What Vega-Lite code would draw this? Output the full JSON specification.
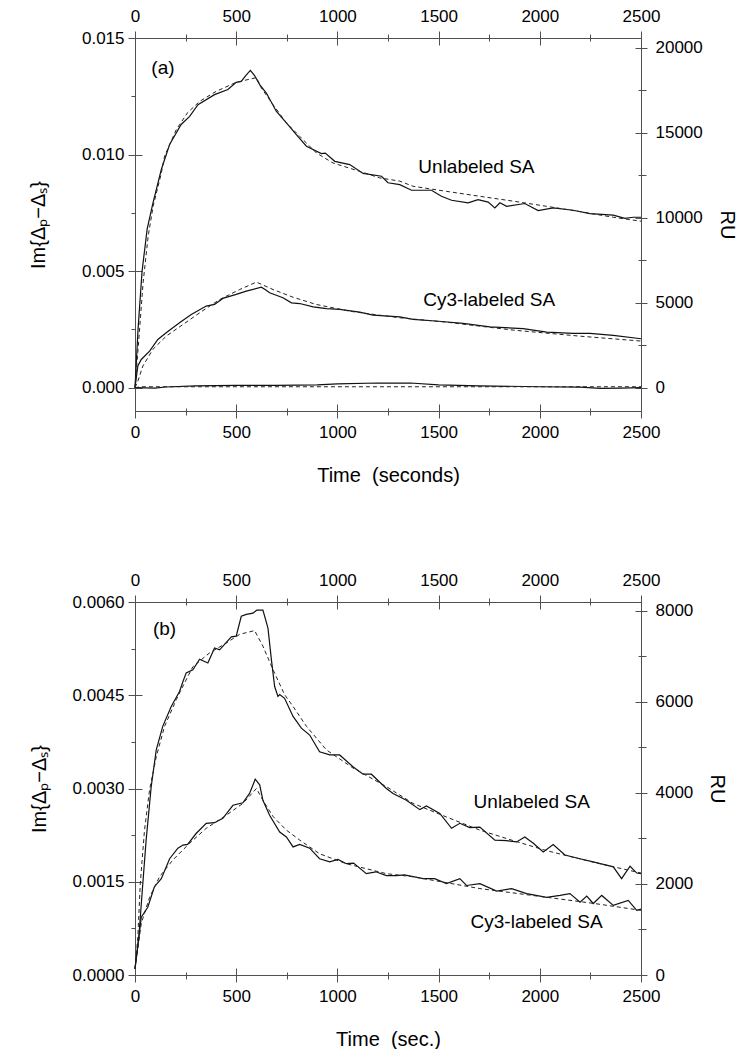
{
  "$schema": "https://vega.github.io/schema/vega-lite/v6.json",
  "padding": {"left": 28, "top": 7, "right": 5, "bottom": 0},
  "spacing": 86,
  "config": {
    "view": {"stroke": null},
    "axis": {
      "grid": false,
      "labelFlush": false,
      "domainColor": "#505050",
      "tickColor": "#505050",
      "domainWidth": 1,
      "tickWidth": 1,
      "labelFont": "Liberation Sans",
      "labelFontSize": 17,
      "labelColor": "#000000",
      "titleFont": "Liberation Sans",
      "titleFontSize": 20,
      "titleFontWeight": "normal",
      "titleColor": "#000000"
    },
    "text": {"font": "Liberation Sans", "fontSize": 19, "color": "#000000"}
  },
  "datasets": {
    "a": [
      {"s": "un", "k": "s", "t": 0, "v": 0},
      {"s": "un", "k": "s", "t": 15, "v": 0.0025},
      {"s": "un", "k": "s", "t": 35, "v": 0.005},
      {"s": "un", "k": "s", "t": 60, "v": 0.0068},
      {"s": "un", "k": "s", "t": 88, "v": 0.0079},
      {"s": "un", "k": "s", "t": 130, "v": 0.00936},
      {"s": "un", "k": "s", "t": 171, "v": 0.01043},
      {"s": "un", "k": "s", "t": 228, "v": 0.01129},
      {"s": "un", "k": "s", "t": 270, "v": 0.01164},
      {"s": "un", "k": "s", "t": 311, "v": 0.01214},
      {"s": "un", "k": "s", "t": 393, "v": 0.01257},
      {"s": "un", "k": "s", "t": 459, "v": 0.01279},
      {"s": "un", "k": "s", "t": 500, "v": 0.0131},
      {"s": "un", "k": "s", "t": 525, "v": 0.01314},
      {"s": "un", "k": "s", "t": 548, "v": 0.0134},
      {"s": "un", "k": "s", "t": 570, "v": 0.01361},
      {"s": "un", "k": "s", "t": 590, "v": 0.0134},
      {"s": "un", "k": "s", "t": 616, "v": 0.013},
      {"s": "un", "k": "s", "t": 649, "v": 0.01264},
      {"s": "un", "k": "s", "t": 698, "v": 0.01186},
      {"s": "un", "k": "s", "t": 748, "v": 0.01136},
      {"s": "un", "k": "s", "t": 797, "v": 0.01086},
      {"s": "un", "k": "s", "t": 847, "v": 0.01036},
      {"s": "un", "k": "s", "t": 921, "v": 0.01004},
      {"s": "un", "k": "s", "t": 940, "v": 0.01006},
      {"s": "un", "k": "s", "t": 987, "v": 0.00971},
      {"s": "un", "k": "s", "t": 1061, "v": 0.00957},
      {"s": "un", "k": "s", "t": 1127, "v": 0.00919},
      {"s": "un", "k": "s", "t": 1218, "v": 0.00907},
      {"s": "un", "k": "s", "t": 1250, "v": 0.00879},
      {"s": "un", "k": "s", "t": 1308, "v": 0.00871},
      {"s": "un", "k": "s", "t": 1366, "v": 0.00847},
      {"s": "un", "k": "s", "t": 1465, "v": 0.00847},
      {"s": "un", "k": "s", "t": 1514, "v": 0.00821},
      {"s": "un", "k": "s", "t": 1564, "v": 0.00804},
      {"s": "un", "k": "s", "t": 1646, "v": 0.00793},
      {"s": "un", "k": "s", "t": 1695, "v": 0.00807},
      {"s": "un", "k": "s", "t": 1745, "v": 0.00796},
      {"s": "un", "k": "s", "t": 1778, "v": 0.00771},
      {"s": "un", "k": "s", "t": 1803, "v": 0.00793},
      {"s": "un", "k": "s", "t": 1836, "v": 0.00778},
      {"s": "un", "k": "s", "t": 1926, "v": 0.0079},
      {"s": "un", "k": "s", "t": 1992, "v": 0.0076},
      {"s": "un", "k": "s", "t": 2066, "v": 0.00771},
      {"s": "un", "k": "s", "t": 2165, "v": 0.00761},
      {"s": "un", "k": "s", "t": 2248, "v": 0.00747},
      {"s": "un", "k": "s", "t": 2363, "v": 0.0074},
      {"s": "un", "k": "s", "t": 2421, "v": 0.00726},
      {"s": "un", "k": "s", "t": 2462, "v": 0.00731},
      {"s": "un", "k": "s", "t": 2500, "v": 0.00731},

      {"s": "und", "k": "d", "t": 0, "v": 0},
      {"s": "und", "k": "d", "t": 20, "v": 0.0022},
      {"s": "und", "k": "d", "t": 40, "v": 0.0045},
      {"s": "und", "k": "d", "t": 65, "v": 0.0065},
      {"s": "und", "k": "d", "t": 90, "v": 0.0078},
      {"s": "und", "k": "d", "t": 130, "v": 0.0092},
      {"s": "und", "k": "d", "t": 146, "v": 0.00993},
      {"s": "und", "k": "d", "t": 204, "v": 0.01107},
      {"s": "und", "k": "d", "t": 260, "v": 0.0118},
      {"s": "und", "k": "d", "t": 319, "v": 0.01228},
      {"s": "und", "k": "d", "t": 401, "v": 0.01271},
      {"s": "und", "k": "d", "t": 500, "v": 0.0131},
      {"s": "und", "k": "d", "t": 600, "v": 0.0133},
      {"s": "und", "k": "d", "t": 624, "v": 0.01286},
      {"s": "und", "k": "d", "t": 682, "v": 0.01214},
      {"s": "und", "k": "d", "t": 748, "v": 0.01136},
      {"s": "und", "k": "d", "t": 814, "v": 0.01078},
      {"s": "und", "k": "d", "t": 896, "v": 0.01007},
      {"s": "und", "k": "d", "t": 978, "v": 0.00964},
      {"s": "und", "k": "d", "t": 1110, "v": 0.00928},
      {"s": "und", "k": "d", "t": 1209, "v": 0.009},
      {"s": "und", "k": "d", "t": 1308, "v": 0.00886},
      {"s": "und", "k": "d", "t": 1374, "v": 0.00864},
      {"s": "und", "k": "d", "t": 1540, "v": 0.00842},
      {"s": "und", "k": "d", "t": 1704, "v": 0.00821},
      {"s": "und", "k": "d", "t": 1870, "v": 0.008},
      {"s": "und", "k": "d", "t": 2034, "v": 0.00778},
      {"s": "und", "k": "d", "t": 2200, "v": 0.00755},
      {"s": "und", "k": "d", "t": 2363, "v": 0.00731},
      {"s": "und", "k": "d", "t": 2500, "v": 0.00714},

      {"s": "cy", "k": "s", "t": 0, "v": 0},
      {"s": "cy", "k": "s", "t": 14, "v": 0.00093},
      {"s": "cy", "k": "s", "t": 31, "v": 0.00121},
      {"s": "cy", "k": "s", "t": 72, "v": 0.00157},
      {"s": "cy", "k": "s", "t": 113, "v": 0.00207},
      {"s": "cy", "k": "s", "t": 154, "v": 0.00236},
      {"s": "cy", "k": "s", "t": 220, "v": 0.00279},
      {"s": "cy", "k": "s", "t": 278, "v": 0.00314},
      {"s": "cy", "k": "s", "t": 352, "v": 0.0035},
      {"s": "cy", "k": "s", "t": 393, "v": 0.00357},
      {"s": "cy", "k": "s", "t": 434, "v": 0.00383},
      {"s": "cy", "k": "s", "t": 500, "v": 0.004},
      {"s": "cy", "k": "s", "t": 550, "v": 0.00414},
      {"s": "cy", "k": "s", "t": 624, "v": 0.00431},
      {"s": "cy", "k": "s", "t": 645, "v": 0.0042},
      {"s": "cy", "k": "s", "t": 665, "v": 0.00407},
      {"s": "cy", "k": "s", "t": 731, "v": 0.00386},
      {"s": "cy", "k": "s", "t": 773, "v": 0.00364},
      {"s": "cy", "k": "s", "t": 814, "v": 0.00361},
      {"s": "cy", "k": "s", "t": 880, "v": 0.00347},
      {"s": "cy", "k": "s", "t": 946, "v": 0.00339},
      {"s": "cy", "k": "s", "t": 1011, "v": 0.00336},
      {"s": "cy", "k": "s", "t": 1110, "v": 0.00324},
      {"s": "cy", "k": "s", "t": 1176, "v": 0.00311},
      {"s": "cy", "k": "s", "t": 1308, "v": 0.00304},
      {"s": "cy", "k": "s", "t": 1374, "v": 0.00293},
      {"s": "cy", "k": "s", "t": 1500, "v": 0.00285},
      {"s": "cy", "k": "s", "t": 1621, "v": 0.00276},
      {"s": "cy", "k": "s", "t": 1753, "v": 0.00261},
      {"s": "cy", "k": "s", "t": 1918, "v": 0.00253},
      {"s": "cy", "k": "s", "t": 2034, "v": 0.00238},
      {"s": "cy", "k": "s", "t": 2165, "v": 0.00233},
      {"s": "cy", "k": "s", "t": 2248, "v": 0.00233},
      {"s": "cy", "k": "s", "t": 2363, "v": 0.00224},
      {"s": "cy", "k": "s", "t": 2500, "v": 0.0021},

      {"s": "cyd", "k": "d", "t": 0, "v": 0},
      {"s": "cyd", "k": "d", "t": 14, "v": 0.00028},
      {"s": "cyd", "k": "d", "t": 39, "v": 0.00093},
      {"s": "cyd", "k": "d", "t": 88, "v": 0.00164},
      {"s": "cyd", "k": "d", "t": 154, "v": 0.00221},
      {"s": "cyd", "k": "d", "t": 237, "v": 0.00271},
      {"s": "cyd", "k": "d", "t": 319, "v": 0.00321},
      {"s": "cyd", "k": "d", "t": 418, "v": 0.00378},
      {"s": "cyd", "k": "d", "t": 517, "v": 0.00421},
      {"s": "cyd", "k": "d", "t": 600, "v": 0.00453},
      {"s": "cyd", "k": "d", "t": 682, "v": 0.00421},
      {"s": "cyd", "k": "d", "t": 781, "v": 0.00388},
      {"s": "cyd", "k": "d", "t": 896, "v": 0.00357},
      {"s": "cyd", "k": "d", "t": 1061, "v": 0.00328},
      {"s": "cyd", "k": "d", "t": 1209, "v": 0.00311},
      {"s": "cyd", "k": "d", "t": 1308, "v": 0.003},
      {"s": "cyd", "k": "d", "t": 1539, "v": 0.00281},
      {"s": "cyd", "k": "d", "t": 1869, "v": 0.00247},
      {"s": "cyd", "k": "d", "t": 2199, "v": 0.00221},
      {"s": "cyd", "k": "d", "t": 2500, "v": 0.002},

      {"s": "bl", "k": "s", "t": 0, "v": 0},
      {"s": "bl", "k": "s", "t": 100, "v": -0.00002},
      {"s": "bl", "k": "s", "t": 150, "v": 0.00003},
      {"s": "bl", "k": "s", "t": 300, "v": 0.00008},
      {"s": "bl", "k": "s", "t": 500, "v": 0.0001},
      {"s": "bl", "k": "s", "t": 700, "v": 0.0001},
      {"s": "bl", "k": "s", "t": 900, "v": 0.00012},
      {"s": "bl", "k": "s", "t": 1000, "v": 0.00016},
      {"s": "bl", "k": "s", "t": 1200, "v": 0.0002},
      {"s": "bl", "k": "s", "t": 1360, "v": 0.0002},
      {"s": "bl", "k": "s", "t": 1500, "v": 0.00012},
      {"s": "bl", "k": "s", "t": 1700, "v": 0.00008},
      {"s": "bl", "k": "s", "t": 2000, "v": 0.00004},
      {"s": "bl", "k": "s", "t": 2200, "v": 0.00002},
      {"s": "bl", "k": "s", "t": 2300, "v": -0.00003},
      {"s": "bl", "k": "s", "t": 2400, "v": -0.00002},
      {"s": "bl", "k": "s", "t": 2500, "v": 0},

      {"s": "bld", "k": "d", "t": 0, "v": 0},
      {"s": "bld", "k": "d", "t": 30, "v": 0.00004},
      {"s": "bld", "k": "d", "t": 2500, "v": 0.00004}
    ],
    "b": [
      {"s": "un", "k": "s", "t": 0, "v": 0.0001},
      {"s": "un", "k": "s", "t": 19, "v": 0.00061},
      {"s": "un", "k": "s", "t": 36, "v": 0.00136},
      {"s": "un", "k": "s", "t": 55, "v": 0.00217},
      {"s": "un", "k": "s", "t": 80, "v": 0.00303},
      {"s": "un", "k": "s", "t": 105, "v": 0.00362},
      {"s": "un", "k": "s", "t": 137, "v": 0.004},
      {"s": "un", "k": "s", "t": 179, "v": 0.00432},
      {"s": "un", "k": "s", "t": 220, "v": 0.00456},
      {"s": "un", "k": "s", "t": 237, "v": 0.00472},
      {"s": "un", "k": "s", "t": 253, "v": 0.00486},
      {"s": "un", "k": "s", "t": 286, "v": 0.00491},
      {"s": "un", "k": "s", "t": 319, "v": 0.00508},
      {"s": "un", "k": "s", "t": 360, "v": 0.00502},
      {"s": "un", "k": "s", "t": 393, "v": 0.00526},
      {"s": "un", "k": "s", "t": 418, "v": 0.00523},
      {"s": "un", "k": "s", "t": 476, "v": 0.00544},
      {"s": "un", "k": "s", "t": 500, "v": 0.00545},
      {"s": "un", "k": "s", "t": 525, "v": 0.00577},
      {"s": "un", "k": "s", "t": 550, "v": 0.0058},
      {"s": "un", "k": "s", "t": 583, "v": 0.00582},
      {"s": "un", "k": "s", "t": 602, "v": 0.00587},
      {"s": "un", "k": "s", "t": 632, "v": 0.00587},
      {"s": "un", "k": "s", "t": 657, "v": 0.00558},
      {"s": "un", "k": "s", "t": 674, "v": 0.00507},
      {"s": "un", "k": "s", "t": 690, "v": 0.00464},
      {"s": "un", "k": "s", "t": 706, "v": 0.00448},
      {"s": "un", "k": "s", "t": 715, "v": 0.00451},
      {"s": "un", "k": "s", "t": 739, "v": 0.00445},
      {"s": "un", "k": "s", "t": 781, "v": 0.00416},
      {"s": "un", "k": "s", "t": 822, "v": 0.00397},
      {"s": "un", "k": "s", "t": 863, "v": 0.00386},
      {"s": "un", "k": "s", "t": 912, "v": 0.00359},
      {"s": "un", "k": "s", "t": 962, "v": 0.00354},
      {"s": "un", "k": "s", "t": 1011, "v": 0.00354},
      {"s": "un", "k": "s", "t": 1077, "v": 0.00335},
      {"s": "un", "k": "s", "t": 1127, "v": 0.00323},
      {"s": "un", "k": "s", "t": 1168, "v": 0.00323},
      {"s": "un", "k": "s", "t": 1242, "v": 0.003},
      {"s": "un", "k": "s", "t": 1275, "v": 0.00292},
      {"s": "un", "k": "s", "t": 1341, "v": 0.00281},
      {"s": "un", "k": "s", "t": 1407, "v": 0.00266},
      {"s": "un", "k": "s", "t": 1440, "v": 0.00272},
      {"s": "un", "k": "s", "t": 1506, "v": 0.0026},
      {"s": "un", "k": "s", "t": 1564, "v": 0.00236},
      {"s": "un", "k": "s", "t": 1605, "v": 0.00244},
      {"s": "un", "k": "s", "t": 1654, "v": 0.00237},
      {"s": "un", "k": "s", "t": 1704, "v": 0.00238},
      {"s": "un", "k": "s", "t": 1778, "v": 0.00217},
      {"s": "un", "k": "s", "t": 1836, "v": 0.00216},
      {"s": "un", "k": "s", "t": 1885, "v": 0.00214},
      {"s": "un", "k": "s", "t": 1926, "v": 0.00222},
      {"s": "un", "k": "s", "t": 1968, "v": 0.00212},
      {"s": "un", "k": "s", "t": 2017, "v": 0.00198},
      {"s": "un", "k": "s", "t": 2066, "v": 0.0021},
      {"s": "un", "k": "s", "t": 2124, "v": 0.00193},
      {"s": "un", "k": "s", "t": 2198, "v": 0.00187},
      {"s": "un", "k": "s", "t": 2264, "v": 0.00182},
      {"s": "un", "k": "s", "t": 2363, "v": 0.00174},
      {"s": "un", "k": "s", "t": 2404, "v": 0.00155},
      {"s": "un", "k": "s", "t": 2446, "v": 0.00175},
      {"s": "un", "k": "s", "t": 2479, "v": 0.00164},
      {"s": "un", "k": "s", "t": 2500, "v": 0.00163},

      {"s": "und", "k": "d", "t": 0, "v": 0.0001},
      {"s": "und", "k": "d", "t": 14, "v": 0.00061},
      {"s": "und", "k": "d", "t": 26, "v": 0.00147},
      {"s": "und", "k": "d", "t": 47, "v": 0.00233},
      {"s": "und", "k": "d", "t": 72, "v": 0.00298},
      {"s": "und", "k": "d", "t": 105, "v": 0.00351},
      {"s": "und", "k": "d", "t": 146, "v": 0.004},
      {"s": "und", "k": "d", "t": 204, "v": 0.00443},
      {"s": "und", "k": "d", "t": 228, "v": 0.00459},
      {"s": "und", "k": "d", "t": 286, "v": 0.00496},
      {"s": "und", "k": "d", "t": 368, "v": 0.00518},
      {"s": "und", "k": "d", "t": 451, "v": 0.00534},
      {"s": "und", "k": "d", "t": 517, "v": 0.00548},
      {"s": "und", "k": "d", "t": 591, "v": 0.00554},
      {"s": "und", "k": "d", "t": 632, "v": 0.00529},
      {"s": "und", "k": "d", "t": 682, "v": 0.00491},
      {"s": "und", "k": "d", "t": 739, "v": 0.00451},
      {"s": "und", "k": "d", "t": 781, "v": 0.00432},
      {"s": "und", "k": "d", "t": 847, "v": 0.004},
      {"s": "und", "k": "d", "t": 946, "v": 0.00362},
      {"s": "und", "k": "d", "t": 1077, "v": 0.00333},
      {"s": "und", "k": "d", "t": 1242, "v": 0.00303},
      {"s": "und", "k": "d", "t": 1374, "v": 0.00276},
      {"s": "und", "k": "d", "t": 1540, "v": 0.00254},
      {"s": "und", "k": "d", "t": 1704, "v": 0.00233},
      {"s": "und", "k": "d", "t": 1870, "v": 0.00216},
      {"s": "und", "k": "d", "t": 2034, "v": 0.002},
      {"s": "und", "k": "d", "t": 2270, "v": 0.00181},
      {"s": "und", "k": "d", "t": 2500, "v": 0.00164},

      {"s": "cy", "k": "s", "t": 0, "v": 0.0001},
      {"s": "cy", "k": "s", "t": 31, "v": 0.00093},
      {"s": "cy", "k": "s", "t": 63, "v": 0.00109},
      {"s": "cy", "k": "s", "t": 96, "v": 0.00142},
      {"s": "cy", "k": "s", "t": 130, "v": 0.00155},
      {"s": "cy", "k": "s", "t": 171, "v": 0.00187},
      {"s": "cy", "k": "s", "t": 212, "v": 0.00204},
      {"s": "cy", "k": "s", "t": 237, "v": 0.00209},
      {"s": "cy", "k": "s", "t": 260, "v": 0.0021},
      {"s": "cy", "k": "s", "t": 303, "v": 0.00228},
      {"s": "cy", "k": "s", "t": 352, "v": 0.00244},
      {"s": "cy", "k": "s", "t": 393, "v": 0.00245},
      {"s": "cy", "k": "s", "t": 434, "v": 0.00252},
      {"s": "cy", "k": "s", "t": 484, "v": 0.00273},
      {"s": "cy", "k": "s", "t": 533, "v": 0.00277},
      {"s": "cy", "k": "s", "t": 566, "v": 0.00292},
      {"s": "cy", "k": "s", "t": 594, "v": 0.00315},
      {"s": "cy", "k": "s", "t": 616, "v": 0.00306},
      {"s": "cy", "k": "s", "t": 632, "v": 0.00281},
      {"s": "cy", "k": "s", "t": 665, "v": 0.00257},
      {"s": "cy", "k": "s", "t": 715, "v": 0.0023},
      {"s": "cy", "k": "s", "t": 748, "v": 0.00222},
      {"s": "cy", "k": "s", "t": 781, "v": 0.00206},
      {"s": "cy", "k": "s", "t": 814, "v": 0.0021},
      {"s": "cy", "k": "s", "t": 863, "v": 0.00204},
      {"s": "cy", "k": "s", "t": 912, "v": 0.00187},
      {"s": "cy", "k": "s", "t": 962, "v": 0.00182},
      {"s": "cy", "k": "s", "t": 1003, "v": 0.00186},
      {"s": "cy", "k": "s", "t": 1044, "v": 0.00179},
      {"s": "cy", "k": "s", "t": 1080, "v": 0.0018},
      {"s": "cy", "k": "s", "t": 1143, "v": 0.00163},
      {"s": "cy", "k": "s", "t": 1190, "v": 0.00166},
      {"s": "cy", "k": "s", "t": 1242, "v": 0.0016},
      {"s": "cy", "k": "s", "t": 1292, "v": 0.0016},
      {"s": "cy", "k": "s", "t": 1330, "v": 0.00161},
      {"s": "cy", "k": "s", "t": 1424, "v": 0.00155},
      {"s": "cy", "k": "s", "t": 1480, "v": 0.00155},
      {"s": "cy", "k": "s", "t": 1539, "v": 0.00147},
      {"s": "cy", "k": "s", "t": 1605, "v": 0.00155},
      {"s": "cy", "k": "s", "t": 1638, "v": 0.00144},
      {"s": "cy", "k": "s", "t": 1704, "v": 0.00147},
      {"s": "cy", "k": "s", "t": 1787, "v": 0.00135},
      {"s": "cy", "k": "s", "t": 1861, "v": 0.00139},
      {"s": "cy", "k": "s", "t": 1935, "v": 0.00131},
      {"s": "cy", "k": "s", "t": 2034, "v": 0.00125},
      {"s": "cy", "k": "s", "t": 2100, "v": 0.00128},
      {"s": "cy", "k": "s", "t": 2149, "v": 0.00131},
      {"s": "cy", "k": "s", "t": 2199, "v": 0.00117},
      {"s": "cy", "k": "s", "t": 2232, "v": 0.00127},
      {"s": "cy", "k": "s", "t": 2264, "v": 0.00115},
      {"s": "cy", "k": "s", "t": 2306, "v": 0.00128},
      {"s": "cy", "k": "s", "t": 2363, "v": 0.00112},
      {"s": "cy", "k": "s", "t": 2437, "v": 0.0012},
      {"s": "cy", "k": "s", "t": 2479, "v": 0.00104},
      {"s": "cy", "k": "s", "t": 2500, "v": 0.00106},

      {"s": "cyd", "k": "d", "t": 0, "v": 0.0001},
      {"s": "cyd", "k": "d", "t": 31, "v": 0.00083},
      {"s": "cyd", "k": "d", "t": 72, "v": 0.00125},
      {"s": "cyd", "k": "d", "t": 121, "v": 0.00158},
      {"s": "cyd", "k": "d", "t": 187, "v": 0.00185},
      {"s": "cyd", "k": "d", "t": 270, "v": 0.00212},
      {"s": "cyd", "k": "d", "t": 352, "v": 0.00236},
      {"s": "cyd", "k": "d", "t": 451, "v": 0.00257},
      {"s": "cyd", "k": "d", "t": 533, "v": 0.00276},
      {"s": "cyd", "k": "d", "t": 600, "v": 0.003},
      {"s": "cyd", "k": "d", "t": 632, "v": 0.00281},
      {"s": "cyd", "k": "d", "t": 682, "v": 0.00255},
      {"s": "cyd", "k": "d", "t": 748, "v": 0.00233},
      {"s": "cyd", "k": "d", "t": 814, "v": 0.00217},
      {"s": "cyd", "k": "d", "t": 912, "v": 0.00195},
      {"s": "cyd", "k": "d", "t": 1044, "v": 0.00179},
      {"s": "cyd", "k": "d", "t": 1242, "v": 0.00163},
      {"s": "cyd", "k": "d", "t": 1374, "v": 0.00158},
      {"s": "cyd", "k": "d", "t": 1704, "v": 0.00139},
      {"s": "cyd", "k": "d", "t": 2034, "v": 0.00125},
      {"s": "cyd", "k": "d", "t": 2270, "v": 0.00115},
      {"s": "cyd", "k": "d", "t": 2500, "v": 0.00104}
    ],
    "alab": [
      {"t": 138, "v": 0.01372, "txt": "(a)"},
      {"t": 1687, "v": 0.00947, "txt": "Unlabeled SA"},
      {"t": 1750, "v": 0.00378, "txt": "Cy3-labeled SA"}
    ],
    "blab": [
      {"t": 146, "v": 0.00556, "txt": "(b)"},
      {"t": 1960, "v": 0.00279, "txt": "Unlabeled SA"},
      {"t": 1984, "v": 0.00085, "txt": "Cy3-labeled SA"}
    ],
    "ru": [{"t": 0, "ru": 0}]
  },
  "vconcat": [
    {
      "width": 506,
      "height": 373,
      "layer": [
        {
          "data": {"name": "a"},
          "transform": [{"filter": "datum.k === 's'"}],
          "mark": {"type": "line", "color": "#111111", "strokeWidth": 1.2},
          "encoding": {
            "x": {"field": "t", "type": "quantitative", "scale": {"domain": [0, 2500], "nice": false, "zero": false},
              "axis": {"orient": "bottom", "values": [0, 250, 500, 750, 1000, 1250, 1500, 1750, 2000, 2250, 2500],
                "labelExpr": "datum.value % 500 === 0 ? datum.label : ''", "format": "d",
                "tickSize": {"condition": {"test": "datum.value % 500 === 0", "value": 7}, "value": 4},
                "labelPadding": 6, "title": "Time \u00a0(seconds)", "titlePadding": 25}},
            "y": {"field": "v", "type": "quantitative", "scale": {"domain": [-0.001, 0.015], "nice": false, "zero": false},
              "axis": {"orient": "left", "values": [0, 0.0025, 0.005, 0.0075, 0.01, 0.0125, 0.015], "format": ".3f",
                "labelExpr": "abs(datum.value*200 - round(datum.value*200)) < 1e-6 ? datum.label : ''",
                "tickSize": {"condition": {"test": "abs(datum.value*200 - round(datum.value*200)) < 1e-6", "value": 7}, "value": 4},
                "labelPadding": 4, "title": "Im{Δₚ−Δₛ}", "titlePadding": 33}},
            "detail": {"field": "s"}
          }
        },
        {
          "data": {"name": "a"},
          "transform": [{"filter": "datum.k === 'd'"}],
          "mark": {"type": "line", "color": "#222222", "strokeWidth": 1, "strokeDash": [4, 3]},
          "encoding": {
            "x": {"field": "t", "type": "quantitative", "scale": {"domain": [0, 2500], "nice": false, "zero": false},
              "axis": {"orient": "top", "values": [0, 250, 500, 750, 1000, 1250, 1500, 1750, 2000, 2250, 2500],
                "labelExpr": "datum.value % 500 === 0 ? datum.label : ''", "format": "d",
                "tickSize": {"condition": {"test": "datum.value % 500 === 0", "value": 7}, "value": 4},
                "labelPadding": 6, "title": null}},
            "y": {"field": "v", "type": "quantitative", "scale": {"domain": [-0.001, 0.015], "nice": false, "zero": false},
              "axis": {"orient": "left", "values": [0, 0.0025, 0.005, 0.0075, 0.01, 0.0125, 0.015], "domain": false, "labels": false,
                "tickSize": {"condition": {"test": "abs(datum.value*200 - round(datum.value*200)) < 1e-6", "value": -7}, "value": 0},
                "title": null}},
            "detail": {"field": "s"}
          }
        },
        {
          "data": {"name": "alab"},
          "mark": {"type": "text", "align": "center", "baseline": "middle"},
          "encoding": {
            "x": {"field": "t", "type": "quantitative", "scale": {"domain": [0, 2500], "nice": false, "zero": false},
              "axis": {"orient": "bottom", "values": [0, 250, 500, 750, 1000, 1250, 1500, 1750, 2000, 2250, 2500], "domain": false, "labels": false,
                "tickSize": {"condition": {"test": "datum.value % 500 === 0", "value": -7}, "value": -3}, "title": null}},
            "y": {"field": "v", "type": "quantitative", "scale": {"domain": [-0.001, 0.015], "nice": false, "zero": false}, "axis": null},
            "text": {"field": "txt"}
          }
        },
        {
          "data": {"name": "ru"},
          "mark": {"type": "point", "opacity": 0},
          "encoding": {
            "x": {"field": "t", "type": "quantitative", "scale": {"domain": [0, 2500], "nice": false, "zero": false},
              "axis": {"orient": "top", "values": [0, 250, 500, 750, 1000, 1250, 1500, 1750, 2000, 2250, 2500], "domain": false, "labels": false,
                "tickSize": {"condition": {"test": "datum.value % 500 === 0", "value": -7}, "value": -3}, "title": null}},
            "y": {"field": "ru", "type": "quantitative", "scale": {"domain": [-1370, 20580], "nice": false, "zero": false},
              "axis": {"orient": "right", "values": [0, 2500, 5000, 7500, 10000, 12500, 15000, 17500, 20000], "format": "d",
                "labelExpr": "datum.value % 5000 === 0 ? datum.label : ''",
                "tickSize": {"condition": {"test": "datum.value % 5000 === 0", "value": 6}, "value": 5},
                "labelPadding": 8, "title": "RU", "titlePadding": 14}}
          }
        },
        {
          "data": {"name": "ru"},
          "mark": {"type": "point", "opacity": 0},
          "encoding": {
            "y": {"field": "ru", "type": "quantitative", "scale": {"domain": [-1370, 20580], "nice": false, "zero": false},
              "axis": {"orient": "right", "values": [0, 2500, 5000, 7500, 10000, 12500, 15000, 17500, 20000], "domain": false, "labels": false,
                "tickSize": {"condition": {"test": "datum.value % 5000 === 0", "value": -6}, "value": -3}, "title": null}}
          }
        }
      ],
      "resolve": {"scale": {"y": "independent"}, "axis": {"x": "independent", "y": "independent"}}
    },
    {
      "width": 506,
      "height": 373,
      "layer": [
        {
          "data": {"name": "b"},
          "transform": [{"filter": "datum.k === 's'"}],
          "mark": {"type": "line", "color": "#111111", "strokeWidth": 1.2},
          "encoding": {
            "x": {"field": "t", "type": "quantitative", "scale": {"domain": [0, 2500], "nice": false, "zero": false},
              "axis": {"orient": "bottom", "values": [0, 250, 500, 750, 1000, 1250, 1500, 1750, 2000, 2250, 2500],
                "labelExpr": "datum.value % 500 === 0 ? datum.label : ''", "format": "d",
                "tickSize": {"condition": {"test": "datum.value % 500 === 0", "value": 7}, "value": 4},
                "labelPadding": 6, "title": "Time \u00a0(sec.)", "titlePadding": 25}},
            "y": {"field": "v", "type": "quantitative", "scale": {"domain": [0, 0.006], "nice": false, "zero": false},
              "axis": {"orient": "left", "values": [0, 0.00075, 0.0015, 0.00225, 0.003, 0.00375, 0.0045, 0.00525, 0.006], "format": ".4f",
                "labelExpr": "abs(datum.value/0.0015 - round(datum.value/0.0015)) < 1e-6 ? datum.label : ''",
                "tickSize": {"condition": {"test": "abs(datum.value/0.0015 - round(datum.value/0.0015)) < 1e-6", "value": 7}, "value": 4},
                "labelPadding": 4, "title": "Im{Δₚ−Δₛ}", "titlePadding": 23}},
            "detail": {"field": "s"}
          }
        },
        {
          "data": {"name": "b"},
          "transform": [{"filter": "datum.k === 'd'"}],
          "mark": {"type": "line", "color": "#222222", "strokeWidth": 1, "strokeDash": [4, 3]},
          "encoding": {
            "x": {"field": "t", "type": "quantitative", "scale": {"domain": [0, 2500], "nice": false, "zero": false},
              "axis": {"orient": "top", "values": [0, 250, 500, 750, 1000, 1250, 1500, 1750, 2000, 2250, 2500],
                "labelExpr": "datum.value % 500 === 0 ? datum.label : ''", "format": "d",
                "tickSize": {"condition": {"test": "datum.value % 500 === 0", "value": 7}, "value": 4},
                "labelPadding": 6, "title": null}},
            "y": {"field": "v", "type": "quantitative", "scale": {"domain": [0, 0.006], "nice": false, "zero": false},
              "axis": {"orient": "left", "values": [0, 0.00075, 0.0015, 0.00225, 0.003, 0.00375, 0.0045, 0.00525, 0.006], "domain": false, "labels": false,
                "tickSize": {"condition": {"test": "abs(datum.value/0.0015 - round(datum.value/0.0015)) < 1e-6", "value": -7}, "value": 0},
                "title": null}},
            "detail": {"field": "s"}
          }
        },
        {
          "data": {"name": "blab"},
          "mark": {"type": "text", "align": "center", "baseline": "middle"},
          "encoding": {
            "x": {"field": "t", "type": "quantitative", "scale": {"domain": [0, 2500], "nice": false, "zero": false},
              "axis": {"orient": "bottom", "values": [0, 250, 500, 750, 1000, 1250, 1500, 1750, 2000, 2250, 2500], "domain": false, "labels": false,
                "tickSize": {"condition": {"test": "datum.value % 500 === 0", "value": -7}, "value": -3}, "title": null}},
            "y": {"field": "v", "type": "quantitative", "scale": {"domain": [0, 0.006], "nice": false, "zero": false}, "axis": null},
            "text": {"field": "txt"}
          }
        },
        {
          "data": {"name": "ru"},
          "mark": {"type": "point", "opacity": 0},
          "encoding": {
            "x": {"field": "t", "type": "quantitative", "scale": {"domain": [0, 2500], "nice": false, "zero": false},
              "axis": {"orient": "top", "values": [0, 250, 500, 750, 1000, 1250, 1500, 1750, 2000, 2250, 2500], "domain": false, "labels": false,
                "tickSize": {"condition": {"test": "datum.value % 500 === 0", "value": -7}, "value": -3}, "title": null}},
            "y": {"field": "ru", "type": "quantitative", "scale": {"domain": [0, 8193], "nice": false, "zero": false},
              "axis": {"orient": "right", "values": [0, 1000, 2000, 3000, 4000, 5000, 6000, 7000, 8000], "format": "d",
                "labelExpr": "datum.value % 2000 === 0 ? datum.label : ''",
                "tickSize": {"condition": {"test": "datum.value % 2000 === 0", "value": 6}, "value": 5},
                "labelPadding": 8, "title": "RU", "titlePadding": 14}}
          }
        },
        {
          "data": {"name": "ru"},
          "mark": {"type": "point", "opacity": 0},
          "encoding": {
            "y": {"field": "ru", "type": "quantitative", "scale": {"domain": [0, 8193], "nice": false, "zero": false},
              "axis": {"orient": "right", "values": [0, 1000, 2000, 3000, 4000, 5000, 6000, 7000, 8000], "domain": false, "labels": false,
                "tickSize": {"condition": {"test": "datum.value % 2000 === 0", "value": -6}, "value": -3}, "title": null}}
          }
        }
      ],
      "resolve": {"scale": {"y": "independent"}, "axis": {"x": "independent", "y": "independent"}}
    }
  ]
}
